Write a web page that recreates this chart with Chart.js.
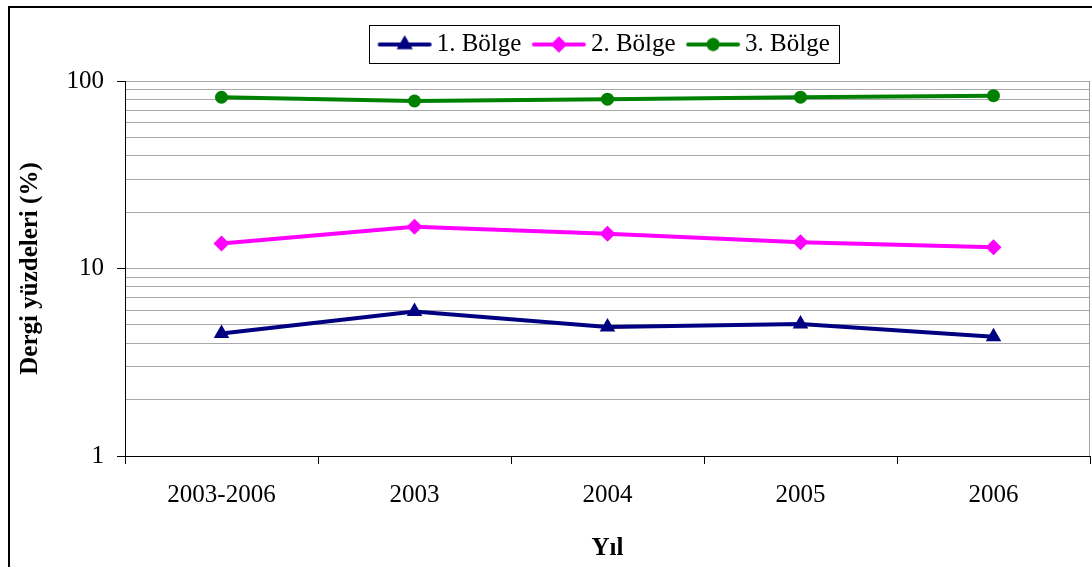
<!DOCTYPE html>
<html>
<head>
<meta charset="utf-8">
<script src="https://cdn.jsdelivr.net/npm/chart.js@4/dist/chart.umd.min.js"></script>
<style>
  body { margin: 0; background: #fff; }
  canvas { display: block; }
</style>
</head>
<body>
<canvas id="line" width="1092" height="567"></canvas>
<script>
// data
const years = ['2003-2006', '2003', '2004', '2005', '2006'];
const bolge1 = [4.5, 5.9, 4.87, 5.06, 4.33];
const bolge2 = [13.6, 16.7, 15.3, 13.8, 13.0];
const bolge3 = [81.9, 78.2, 80, 82, 83.5];
const yTicks = [1, 2, 3, 4, 5, 6, 7, 8, 9, 10, 20, 30, 40, 50, 60, 70, 80, 90, 100];
const yLabeled = [1, 10, 100];

const serif = 'Liberation Serif';
const colors = ['#000080', '#FF00FF', '#008000'];
const styles = ['triangle', 'rectRot', 'circle'];
const radii = [9, 8, 6.5];

// small line+marker pictures for the legend
function legendIcon(i) {
  const c = document.createElement('canvas');
  c.width = 56; c.height = 22;
  const g = c.getContext('2d');
  g.strokeStyle = colors[i];
  g.lineWidth = 4;
  g.lineCap = 'round';
  g.beginPath(); g.moveTo(3, 11); g.lineTo(53, 11); g.stroke();
  g.fillStyle = colors[i];
  Chart.helpers.drawPoint(g, {pointStyle: styles[i], radius: radii[i], rotation: 0, borderWidth: 0}, 28, 11);
  g.fill();
  return c;
}

const frame = {
  id: 'frame',
  afterInit(chart) {
    // leave room under the legend like the original
    const lg = chart.legend;
    const fit = lg.fit;
    lg.fit = function () {
      fit.call(this);
      this.height = 67;
    };
  },
  beforeDraw(chart) {
    const ctx = chart.ctx;
    ctx.save();
    ctx.fillStyle = '#fff';
    ctx.fillRect(0, 0, chart.width, chart.height);
    ctx.strokeStyle = '#000';
    ctx.lineWidth = 2;
    ctx.strokeRect(9, 7, chart.width + 20, chart.height + 20);
    ctx.restore();
  },
  afterDraw(chart) {
    const ctx = chart.ctx;
    const a = chart.chartArea;
    ctx.save();
    ctx.strokeStyle = '#a0a0a0';
    ctx.lineWidth = 1;
    ctx.beginPath();
    ctx.moveTo(Math.round(a.right) - 0.5, a.top);
    ctx.lineTo(Math.round(a.right) - 0.5, a.bottom);
    ctx.stroke();
    // box round the legend
    const boxes = chart.legend.legendHitBoxes;
    if (boxes && boxes.length) {
      const x0 = Math.min(...boxes.map(b => b.left)) - 16;
      const x1 = Math.max(...boxes.map(b => b.left + b.width)) + 9;
      const y0 = Math.min(...boxes.map(b => b.top)) - 7;
      const y1 = Math.max(...boxes.map(b => b.top + b.height)) + 6;
      ctx.strokeStyle = '#000';
      ctx.lineWidth = 1;
      ctx.strokeRect(Math.round(x0) + 0.5, Math.round(y0) + 0.5, Math.round(x1 - x0), Math.round(y1 - y0));
    }
    ctx.restore();
  }
};

const names = ['1. Bölge', '2. Bölge', '3. Bölge'];
const series = [bolge1, bolge2, bolge3];

new Chart(document.querySelector('#line'), {
  type: 'line',
  data: {
    labels: years,
    datasets: series.map((d, i) => ({
      label: names[i],
      data: d,
      borderColor: colors[i],
      backgroundColor: colors[i],
      borderWidth: 4,
      pointStyle: styles[i],
      pointRadius: radii[i],
      pointBorderWidth: 0,
      tension: 0
    }))
  },
  options: {
    responsive: false,
    animation: false,
    layout: { autoPadding: false, padding: { left: 10, right: 2, top: 14, bottom: 0 } },
    plugins: {
      tooltip: { enabled: false },
      legend: {
        position: 'top',
        fullSize: false,
        labels: {
          usePointStyle: true,
          pointStyleWidth: 39,
          color: '#000',
          padding: 18,
          font: { family: serif, size: 25 },
          generateLabels(chart) {
            const items = Chart.defaults.plugins.legend.labels.generateLabels(chart);
            items.forEach((it, i) => { it.pointStyle = legendIcon(i); });
            return items;
          }
        }
      }
    },
    scales: {
      x: {
        offset: true,
        grid: {
          offset: true,
          drawOnChartArea: false,
          tickLength: 8,
          tickColor: '#000'
        },
        border: { color: '#000', width: 1 },
        ticks: {
          color: '#000',
          padding: 16,
          maxRotation: 0,
          font: { family: serif, size: 25 }
        },
        title: {
          display: true,
          text: 'Yıl',
          color: '#000',
          padding: { top: 3, bottom: 3 },
          font: { family: serif, size: 25, weight: 'bold' }
        },
        afterFit(scale) {
          scale.height = 111;
          scale.paddingLeft = 0;
          scale.paddingRight = 0;
        }
      },
      y: {
        type: 'logarithmic',
        min: 1,
        max: 100,
        afterBuildTicks(scale) {
          scale.ticks = yTicks.map(v => ({ value: v }));
        },
        grid: {
          color: c => (c.tick && c.tick.value === 1) ? 'rgba(0,0,0,0)' : '#a8a8a8',
          tickColor: c => (c.tick && yLabeled.includes(c.tick.value)) ? '#000' : 'rgba(0,0,0,0)',
          tickLength: 8
        },
        border: { color: '#000', width: 1 },
        ticks: {
          autoSkip: false,
          color: '#000',
          padding: 13,
          font: { family: serif, size: 25 },
          callback: v => yLabeled.includes(v) ? String(v) : ''
        },
        title: {
          display: true,
          text: 'Dergi yüzdeleri (%)',
          color: '#000',
          padding: { top: 6, bottom: 4 },
          font: { family: serif, size: 25, weight: 'bold' }
        },
        afterFit(scale) { scale.width = 115; }
      }
    }
  },
  plugins: [frame]
});
</script>
</body>
</html>
